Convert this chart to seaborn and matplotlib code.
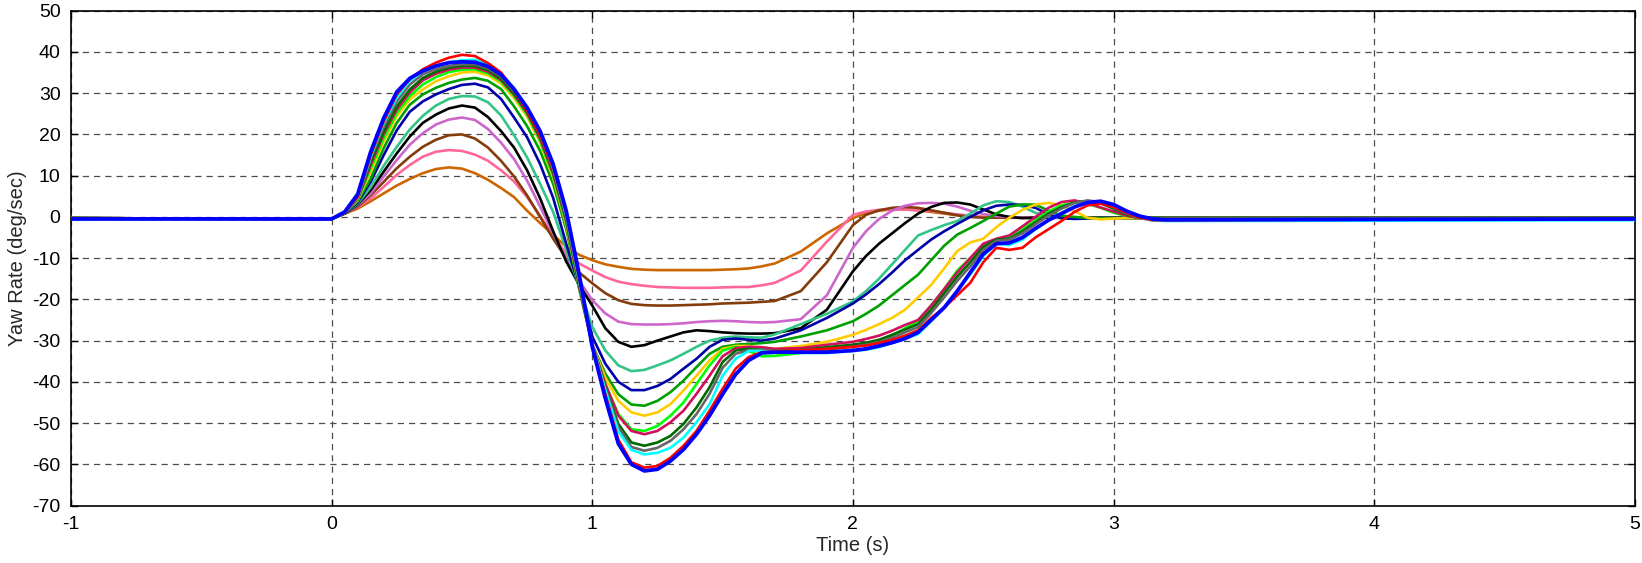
import numpy as np
import pandas as pd
import matplotlib
matplotlib.use("Agg")
import matplotlib.pyplot as plt
import seaborn as sns

# time grid (s) shared by every run
time_s = [-1.0, 0.0, 0.05, 0.1, 0.15, 0.2, 0.25, 0.3, 0.35, 0.4, 0.45, 0.5, 0.55, 0.6,
          0.65, 0.7, 0.75, 0.8, 0.85, 0.9, 0.95, 1.0, 1.05, 1.1, 1.15, 1.2, 1.25, 1.3,
          1.35, 1.4, 1.45, 1.5, 1.55, 1.6, 1.65, 1.7, 1.8, 1.9, 2.0, 2.05, 2.1, 2.15,
          2.2, 2.25, 2.3, 2.35, 2.4, 2.45, 2.5, 2.55, 2.6, 2.65, 2.7, 2.75, 2.8, 2.85,
          2.9, 2.95, 3.0, 3.05, 3.1, 3.15, 3.2, 5.0]

# yaw rate (deg/sec) per run
orange = [-0.3, -0.5, 0.8, 2, 3.8, 5.7, 7.6, 9.2, 10.6, 11.6, 12, 11.7, 10.6, 9,
          7, 4.8, 1.5, -1.5, -4.3, -7.3, -9.2, -10.5, -11.5, -12.1, -12.6, -12.8, -12.9, -12.9,
          -12.9, -12.9, -12.9, -12.8, -12.7, -12.5, -12, -11.3, -8.4, -4, -0.3, 0.9, 1.5, 1.8,
          1.8, 1.6, 1.2, 0.8, 0.4, 0.1, 0, -0.1, -0.2, -0.2, -0.2, -0.2, -0.2, -0.2,
          -0.2, -0.2, -0.2, -0.2, -0.2, -0.2, -0.2, -0.2]
pink = [-0.3, -0.5, 0.8, 2.3, 4.5, 7.3, 10.2, 12.6, 14.6, 15.8, 16.2, 16, 15.1, 13.6,
        11.3, 8.6, 4.8, 0.2, -4.6, -9, -11.3, -13, -14.6, -15.7, -16.3, -16.7, -17, -17.1,
        -17.2, -17.2, -17.2, -17.1, -17, -17, -16.6, -16, -13, -6, 0.5, 1.3, 1.7, 1.8,
        1.8, 1.6, 1.4, 1, 0.6, 0.3, 0, -0.2, -0.2, -0.2, -0.2, -0.2, -0.2, -0.2,
        -0.2, -0.2, -0.2, -0.2, -0.2, -0.2, -0.2, -0.2]
brown = [-0.3, -0.5, 0.8, 2.5, 5.3, 8.5, 11.8, 14.6, 17, 18.7, 19.8, 20, 19, 16.8,
         13.6, 9.8, 5.2, 0, -5.3, -10, -13.5, -16.1, -18.5, -20.2, -21.1, -21.4, -21.5, -21.5,
         -21.4, -21.3, -21.2, -21, -20.9, -20.8, -20.6, -20.4, -18, -11, -2, 0.5, 1.6, 2.2,
         2.4, 2.2, 1.6, 1, 0.4, 0, -0.2, -0.2, -0.2, -0.2, -0.2, -0.2, -0.2, -0.2,
         -0.2, -0.2, -0.2, -0.2, -0.2, -0.2, -0.2, -0.2]
orchid = [-0.3, -0.5, 0.8, 2.8, 5.7, 9.8, 13.8, 17.5, 20.3, 22.4, 23.6, 24.1, 23.5, 21.3,
          18, 14, 8.8, 2.5, -4, -10.3, -15.5, -20.2, -23.4, -25.4, -26, -26.1, -26.1, -26,
          -25.8, -25.5, -25.3, -25.2, -25.3, -25.5, -25.6, -25.5, -24.8, -19, -7.5, -3.5, -0.5, 1.5,
          2.7, 3.3, 3.4, 3.2, 2.5, 1.5, 0.7, 0.2, 0, -0.2, -0.2, -0.2, -0.2, -0.2,
          -0.2, -0.2, -0.2, -0.2, -0.2, -0.2, -0.2, -0.2]
black = [-0.3, -0.5, 0.8, 3, 6.5, 11, 15.4, 19.5, 22.8, 24.8, 26.3, 27, 26.5, 24.2,
         20.8, 16.8, 11.3, 4.5, -3.5, -10.8, -16.5, -21.5, -27, -30.3, -31.5, -31.1, -30, -29,
         -28, -27.5, -27.7, -28, -28.2, -28.3, -28.3, -28.2, -27, -22.5, -13.2, -9.5, -6.5, -4,
         -1.5, 0.8, 2.4, 3.4, 3.5, 3, 1.8, 0.6, 0, -0.3, -0.2, -0.2, -0.2, -0.2,
         -0.2, -0.2, -0.2, -0.2, -0.2, -0.2, -0.2, -0.2]
aqua = [-0.3, -0.5, 0.9, 3.2, 7.2, 12.4, 17, 21.2, 24.5, 27, 28.6, 29.3, 29.2, 27.8,
        24.6, 19.8, 14.4, 8, 1.2, -8, -17, -26.7, -32.4, -36, -37.4, -37.1, -36, -34.8,
        -33.2, -31.5, -30, -29.3, -29, -29.2, -29.3, -28.5, -26, -23.5, -20.5, -18, -15, -11.5,
        -8, -4.5, -3.2, -2, -1, 0.8, 2.8, 3.8, 3.6, 2.5, 1, 0, -0.3, -0.3,
        -0.3, -0.3, -0.3, -0.3, -0.3, -0.3, -0.3, -0.3]
navy = [-0.3, -0.5, 0.9, 3.5, 8.5, 15, 21, 25.5, 28, 29.7, 31, 32, 32.3, 31.4,
        28.6, 24.1, 19.3, 12.8, 4.6, -6.5, -17, -29, -35.6, -40, -42, -42, -41, -39.3,
        -36.8, -34.4, -31.5, -29.8, -29.5, -29.8, -30, -29.5, -27.5, -24.5, -21, -18.8, -16.3, -13.5,
        -10.5, -8, -5.5, -3.5, -1.7, 0, 1.6, 2.7, 3, 2.9, 2.2, 0.6, -0.3, -0.5,
        -0.4, -0.3, -0.3, -0.3, -0.3, -0.3, -0.3, -0.3]
green = [-0.3, -0.5, 1, 3.8, 9.3, 16.7, 22.8, 27.2, 29.7, 31.3, 32.5, 33.3, 33.7, 33,
         31, 26.8, 22, 16, 8, -3, -17.5, -31, -38, -43, -45.5, -45.8, -44.6, -42.5,
         -39.7, -36.4, -33.2, -31.5, -31, -30.8, -30.6, -30.3, -29, -27.5, -25.3, -23.5, -21.5, -19,
         -16.5, -14, -10.5, -7, -4.3, -2.7, -1, 0.8, 2.5, 3, 3, 1.5, 0.3, 0,
         -0.3, -0.3, -0.3, -0.3, -0.3, -0.3, -0.3, -0.3]
gold = [-0.3, -0.5, 1, 4, 11, 18.3, 24.4, 28.5, 30.9, 32.9, 34.1, 35, 35.2, 34.3,
        32.3, 28.8, 24.3, 18, 9.5, -2, -17, -31, -39, -44.6, -47.4, -48.2, -47.4, -45.4,
        -42.1, -38.5, -34.8, -32, -31.3, -31.3, -31.7, -32, -31.3, -30.3, -28.6, -27.4, -26, -24.5,
        -22.5, -19.5, -16.5, -12.5, -8.3, -6.2, -5.3, -2.5, -0.2, 1.7, 3, 3.4, 2.8, 1.4,
        -0.2, -0.6, -0.4, -0.3, -0.3, -0.3, -0.3, -0.3]
lime = [-0.3, -0.5, 1, 4.2, 11.8, 19.1, 25.2, 29.3, 32.1, 33.9, 35.1, 35.7, 35.8, 34.8,
        32.8, 29.3, 24.8, 18.5, 10, -1.5, -17, -31, -40.5, -47.8, -51.5, -51.9, -50.7, -48.2,
        -45, -40.5, -36, -32.4, -31.5, -32.5, -33.8, -33.7, -33, -32.3, -31.3, -30.8, -30, -28.8,
        -27, -25.2, -21.5, -17.5, -13, -10, -7, -5.8, -5, -3, -0.8, 1.3, 2.8, 3.5,
        3.2, 2.2, 1, 0.2, -0.3, -0.3, -0.3, -0.3]
crimson = [-0.3, -0.5, 1, 4.3, 12.6, 20.1, 26, 30.2, 33.1, 34.7, 35.7, 36.2, 36.2, 35.2,
           33.2, 29.7, 25.2, 19, 10.5, -1, -17, -31, -40.5, -48.2, -51.9, -52.7, -51.9, -49.8,
           -47, -42.9, -38.5, -33.8, -31.8, -31.5, -31.6, -32, -31.8, -31, -30.3, -29.6, -28.8, -27.6,
           -26.2, -25, -21.5, -17.5, -13.5, -10, -6.5, -5.3, -4.5, -2.3, 0, 2.2, 3.6, 4,
           3.3, 2.3, 1.3, 0.3, -0.3, -0.3, -0.3, -0.3]
dkgreen = [-0.3, -0.5, 1, 4.4, 13.4, 20.7, 26.8, 30.9, 33.7, 35.2, 36.2, 36.6, 36.6, 35.6,
           33.5, 30, 25.5, 19.3, 11, -0.5, -16.5, -31, -41.3, -50.2, -54.7, -55.5, -54.7, -53.1,
           -50.2, -46.2, -41.3, -35.2, -32.4, -32, -32.2, -32.6, -32.3, -31.6, -31, -30.5, -29.8, -28.6,
           -27.3, -26, -22.5, -18.5, -14.5, -11, -7.3, -5.5, -5.3, -3.5, -1.3, 0.8, 2.4, 3.5,
           3.8, 3.3, 2, 0.6, -0.2, -0.3, -0.3, -0.3]
gray = [-0.3, -0.5, 1, 4.5, 14.2, 22, 28, 32.1, 34.6, 35.8, 36.6, 37, 37, 36,
        34, 30.5, 26, 19.8, 11.5, 0, -16, -31, -41.5, -51, -55.8, -56.7, -56, -54.3,
        -51.5, -47.8, -42.9, -36.6, -33.2, -32.3, -32.2, -32.5, -32.4, -32, -31.5, -31, -30.4, -29.3,
        -28, -26.7, -23.3, -19.5, -15.5, -12, -8, -5.8, -5.5, -4, -1.8, 0.3, 2, 3.4,
        4, 3.6, 2.3, 0.8, -0.3, -0.5, -0.4, -0.4]
cyan = [-0.6, -0.6, 1, 4.6, 14.6, 22.8, 28.9, 33, 35.3, 36.6, 37.4, 38, 38.1, 37,
        34.8, 31.2, 26.2, 20.3, 12, 0.5, -15.5, -31, -42, -52, -56.5, -57.6, -57.2, -56,
        -53.5, -49.8, -45.4, -38.5, -34.4, -32.5, -32.5, -32.8, -33, -33, -32.5, -32.2, -31.6, -30.6,
        -29.6, -28.4, -25.3, -22, -18, -14, -9.5, -6.5, -6.8, -5.5, -3, -0.8, 1, 2.6,
        3.6, 3.7, 2.8, 1.2, -0.2, -0.9, -1, -0.8]
red = [-0.4, -0.5, 1, 4.8, 15, 23.2, 29.7, 33.4, 35.8, 37.4, 38.6, 39.3, 39, 37.3,
       35, 30.8, 25.8, 19.8, 12, 1, -15, -31, -43, -54, -59.5, -60.8, -60.4, -58.4,
       -55.5, -51.9, -47, -41.7, -36.8, -34, -32.8, -32.6, -32.3, -32, -31.5, -31.2, -30.6, -29.8,
       -28.8, -27.5, -24.5, -22, -19, -16, -11, -7.5, -8, -7.5, -5, -3, -1, 1.2,
       2.8, 3.2, 2.4, 1, -0.2, -0.8, -0.8, -0.5]
blue = [-0.5, -0.5, 1.2, 5.5, 15.8, 24, 30.3, 33.6, 35.4, 36.6, 37.4, 37.6, 37.5, 36.5,
        34.5, 31, 26.5, 20.8, 12.8, 1.5, -14, -31.5, -44, -55, -60, -61.6, -61.2, -59.2,
        -56.4, -52.7, -48.2, -43, -38.2, -34.8, -33, -32.8, -32.8, -32.8, -32.4, -32, -31.3, -30.5,
        -29.5, -28, -25, -22, -18, -13.5, -9, -6.5, -6.3, -5, -2.8, -0.8, 0.8, 2.4,
        3.5, 3.8, 3, 1.4, 0.2, -0.5, -0.7, -0.5]

runs = [orange, pink, brown, orchid, black, aqua, navy, green, gold, lime,
        crimson, dkgreen, gray, cyan, red, blue]
colors = ['#CC6600', '#FF6699', '#843C0C', '#CC66CC', '#000000', '#33C488', '#0000A8',
          '#00A000', '#FFCC00', '#00FF00', '#D0105E', '#006A00', '#666666', '#00FFFF',
          '#FF0000', '#0000FF']
widths = [1.9] * 15 + [2.7]

sns.set_theme(style='white')
plt.rcParams['font.family'] = ['Liberation Sans', 'DejaVu Sans']
plt.rcParams['axes.unicode_minus'] = False

fig = plt.figure(figsize=(16.42, 5.63), dpi=100)
ax = fig.add_axes([0.0432, 0.102, 0.9525, 0.879])

for i, vals in enumerate(runs):
    d = pd.DataFrame({'time': time_s, 'yaw': vals})
    sns.lineplot(data=d, x='time', y='yaw', color=colors[i], linewidth=widths[i],
                 estimator=None, sort=False, ax=ax, zorder=3 + i)

ax.set_xlim(-1, 5)
ax.set_ylim(-70, 50)
ax.set_xticks(np.arange(-1, 6, 1))
ax.set_yticks(np.arange(-70, 51, 10))
ax.grid(True, linestyle=(0, (5, 4)), color='0.3', linewidth=0.9)
ax.set_axisbelow(True)
for s in ax.spines.values():
    s.set_color('black')
    s.set_linewidth(1.2)
ax.tick_params(direction='in', length=5, width=1, colors='black', labelsize=14,
               top=True, right=True, bottom=True, left=True, pad=7.5)
ax.set_xlabel('Time (s)', fontsize=14.5, labelpad=2)
ax.set_ylabel('Yaw Rate (deg/sec)', fontsize=14.5, labelpad=4)

fig.savefig('out.png', dpi=100)
